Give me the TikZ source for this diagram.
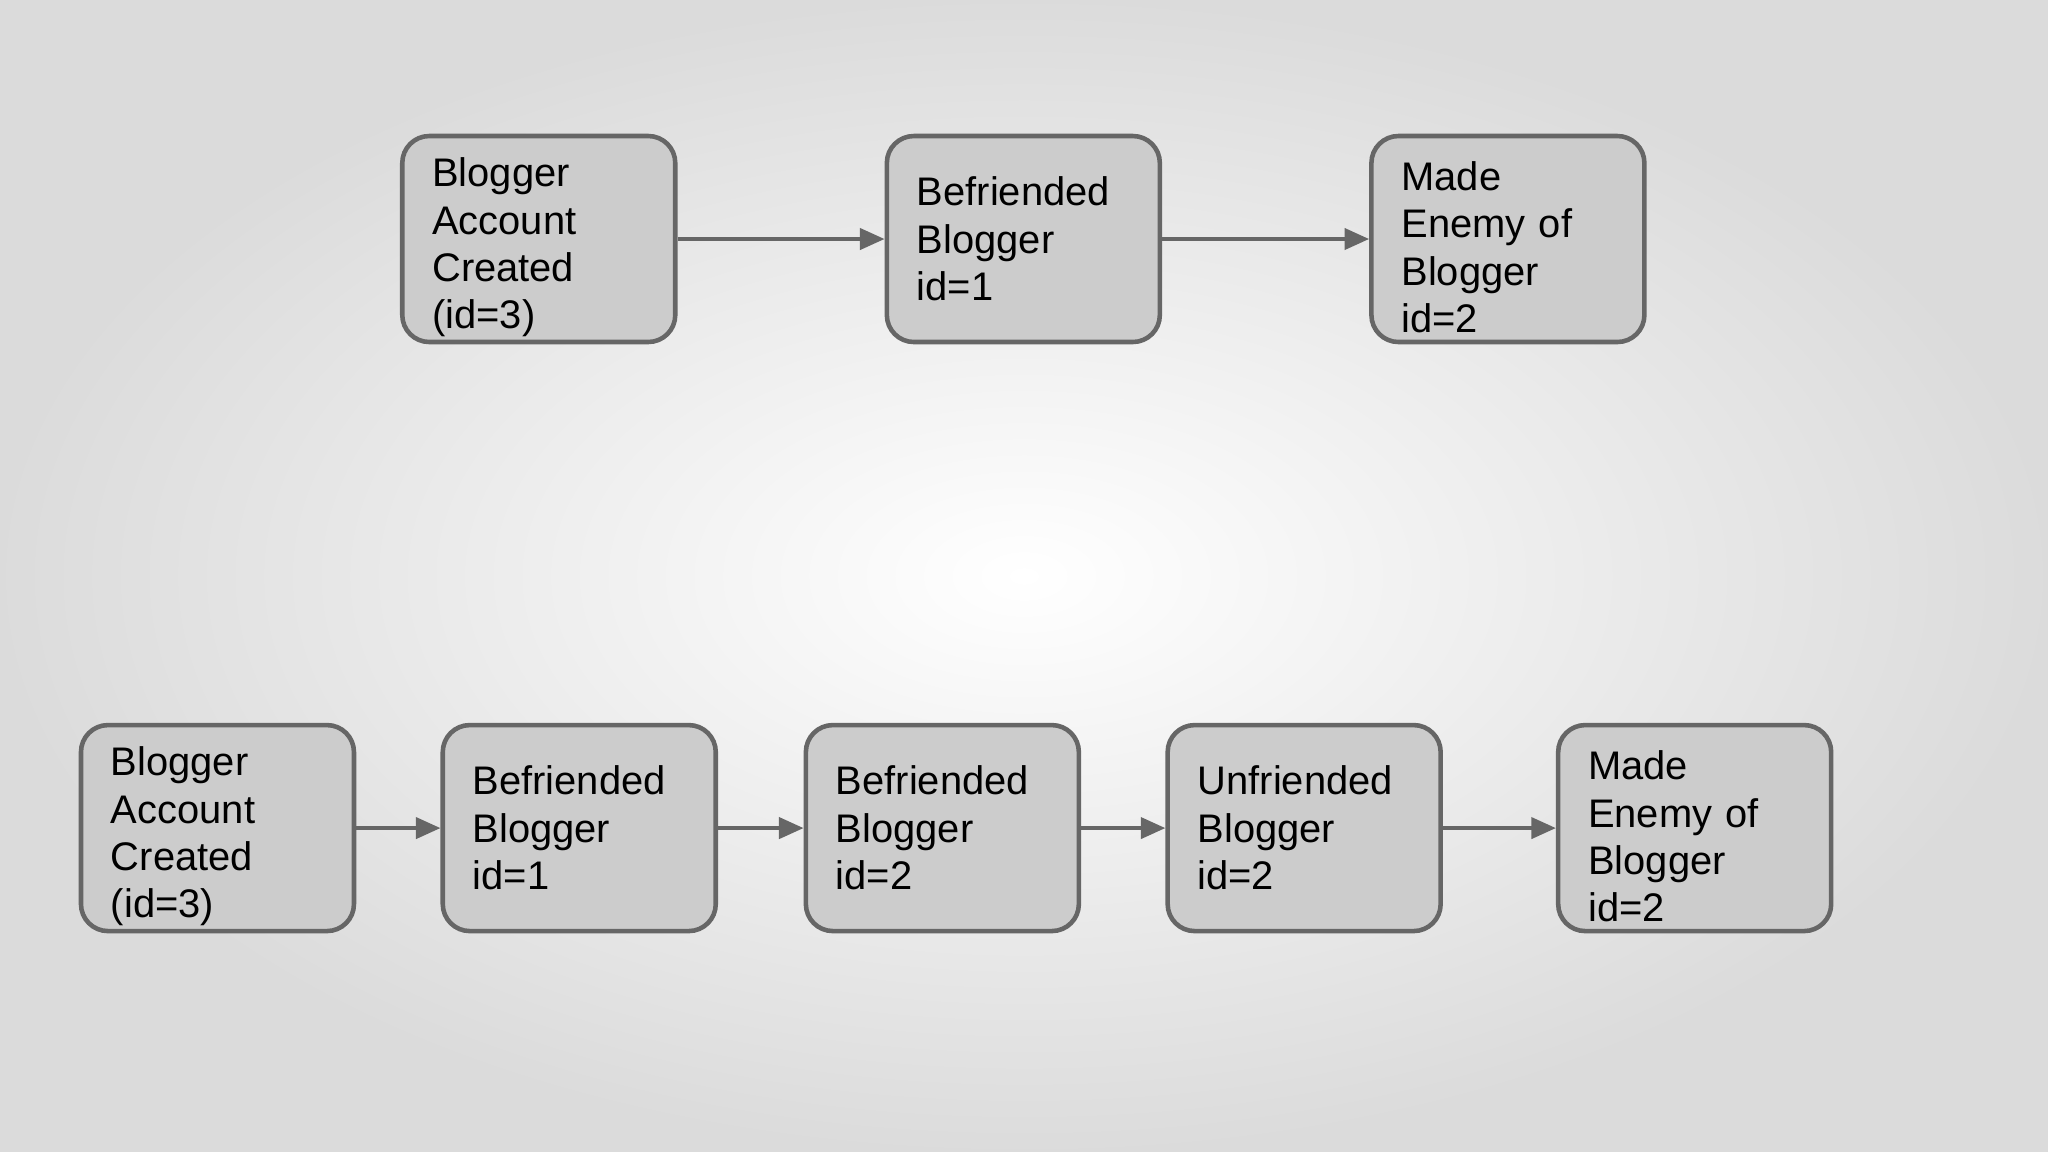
\documentclass[tikz,border=0pt]{standalone}
\usepackage{fontspec}
\setmainfont{Liberation Sans}
\usetikzlibrary{arrows.meta}
\definecolor{boxfill}{HTML}{CCCCCC}
\definecolor{edge}{HTML}{666666}
\newcommand{\dn}{\rule{0pt}{13pt}}
\begin{document}
\begin{tikzpicture}[x=0.013061cm,y=-0.013061cm,
  ev/.style={draw=edge,fill=boxfill,line width=1.3pt,rounded corners=0.27cm,
    minimum width=2.73cm,minimum height=2.06cm,text width=2.13cm,align=left,
    inner sep=0pt,font=\fontsize{11.35}{13.5}\selectfont,text=black},
  conn/.style={draw=edge,line width=1.1pt,-{Triangle[length=7pt,width=6pt]}}]
\shade[inner color=white,outer color=black!14] (0,0) rectangle (1568,882);
\useasboundingbox (0,0) rectangle (1568,882);
\node[ev] (a1) at (412.5,183) {\dn Blogger\\Account\\Created\\(id=3)};
\node[ev] (a2) at (783.5,183) {Befriended\\Blogger\\id=1};
\node[ev] (a3) at (1154.5,183) {\dn Made\\Enemy of\\Blogger\\id=2};
\draw[conn] (a1) -- (a2);
\draw[conn] (a2) -- (a3);
\node[ev] (b1) at (166.5,634) {\dn Blogger\\Account\\Created\\(id=3)};
\node[ev] (b2) at (443.5,634) {Befriended\\Blogger\\id=1};
\node[ev] (b3) at (721.5,634) {Befriended\\Blogger\\id=2};
\node[ev] (b4) at (998.5,634) {Unfriended\\Blogger\\id=2};
\node[ev] (b5) at (1297.5,634) {\dn Made\\Enemy of\\Blogger\\id=2};
\draw[conn] (b1) -- (b2);
\draw[conn] (b2) -- (b3);
\draw[conn] (b3) -- (b4);
\draw[conn] (b4) -- (b5);
\end{tikzpicture}
\end{document}
